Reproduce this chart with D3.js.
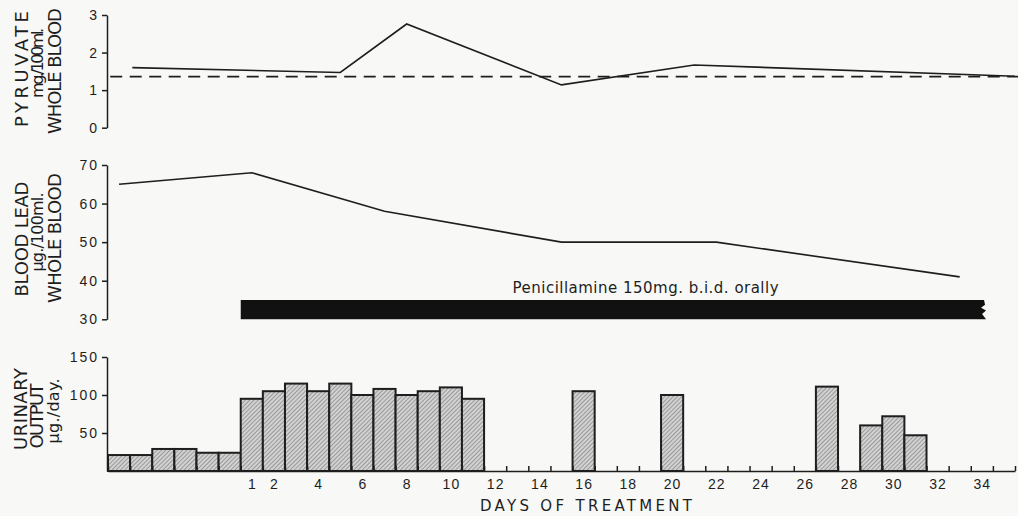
<!DOCTYPE html>
<html>
<head>
<meta charset="utf-8">
<script src="https://cdn.jsdelivr.net/npm/d3@7"></script>
<style>
  body { margin: 0; background: #f8f8f6; }
  svg { display: block; font-family: "DejaVu Sans", sans-serif; }
</style>
</head>
<body>
<div id="chart"></div>
<script>
// day numbers are days of treatment, <= 0 are control days before treatment
const pyruvateDays = [-4.4, 5, 8, 15, 21, 35.5];
const pyruvateValues = [1.6, 1.47, 2.76, 1.14, 1.67, 1.37];
const pyruvateNormal = 1.36;
const pyruvateTicks = [0, 1, 2, 3];

const leadDays = [-5, 1, 7, 15, 22, 33];
const leadValues = [65, 68, 58, 50, 50, 41];
const leadTicks = [30, 40, 50, 60, 70];

const urineDays = [-5, -4, -3, -2, -1, 0, 1, 2, 3, 4, 5, 6, 7, 8, 9, 10, 11, 16, 20, 27, 29, 30, 31];
const urineValues = [21, 21, 29, 29, 24, 24, 95, 105, 115, 105, 115, 100, 108, 100, 105, 110, 95, 105, 100, 111, 60, 72, 47];
const urineTicks = [50, 100, 150];

const dayLabels = [1, 2, 4, 6, 8, 10, 12, 14, 16, 18, 20, 22, 24, 26, 28, 30, 32, 34];
const treatmentSpan = [0.5, 34.1];
const treatmentLabel = "Penicillamine 150mg. b.i.d. orally";

const width = 1018, height = 516;
const ink = "#1e1e1e";

const svg = d3.select("#chart").append("svg")
  .attr("width", width)
  .attr("height", height);

// hatched fill for the urine bars
const pat = svg.append("defs").append("pattern")
  .attr("id", "hatch")
  .attr("patternUnits", "userSpaceOnUse")
  .attr("width", 3).attr("height", 3)
  .attr("patternTransform", "rotate(45)");
pat.append("rect").attr("width", 3).attr("height", 3).attr("fill", "#d2d2d2");
pat.append("line").attr("x1", 0).attr("y1", 0).attr("x2", 0).attr("y2", 3)
  .attr("stroke", "#7a7a7a").attr("stroke-width", 1.3);

const x = d3.scaleLinear().domain([-5.5, 35.5]).range([108, 1015]);
const yPyr = d3.scaleLinear().domain([0, 3]).range([127.7, 15]);
const yLead = d3.scaleLinear().domain([30, 70]).range([319.3, 165]);
const yUri = d3.scaleLinear().domain([0, 150]).range([471, 357]);

function styleAxis(g) {
  g.select(".domain").attr("stroke", ink).attr("stroke-width", 1.5);
  g.selectAll(".tick line").attr("stroke", ink).attr("stroke-width", 1.5);
  g.selectAll(".tick text")
    .attr("fill", ink)
    .style("font-size", "14px")
    .style("letter-spacing", "2px");
}

function leftAxis(scale, ticks) {
  const g = svg.append("g")
    .attr("transform", `translate(${x.range()[0] - 1},0)`)
    .call(d3.axisLeft(scale).tickValues(ticks).tickFormat(d3.format("d"))
      .tickSize(5).tickSizeOuter(0).tickPadding(3));
  styleAxis(g);
  return g;
}

function sideTitle(lines) {
  lines.forEach(l => {
    svg.append("text")
      .attr("transform", `translate(${l.x},${l.y}) rotate(-90)`)
      .attr("text-anchor", "middle")
      .attr("textLength", l.len)
      .attr("lengthAdjust", "spacing")
      .attr("fill", ink)
      .style("font-size", l.size + "px")
      .text(l.t);
  });
}

// ---- pyruvate panel
leftAxis(yPyr, pyruvateTicks);
sideTitle([
  { t: "PYRUVATE", x: 28, y: 69, len: 116, size: 18 },
  { t: "mg./100ml.", x: 43, y: 63, len: 70, size: 16 },
  { t: "WHOLE BLOOD", x: 61, y: 71, len: 126, size: 18 }
]);

svg.append("line")
  .attr("x1", x(-5.4)).attr("x2", width)
  .attr("y1", yPyr(pyruvateNormal)).attr("y2", yPyr(pyruvateNormal))
  .attr("stroke", ink).attr("stroke-width", 1.6)
  .attr("stroke-dasharray", "12,7.5");

const pyrLine = d3.line().x(d => x(d[0])).y(d => yPyr(d[1]));
svg.append("path")
  .datum(d3.zip(pyruvateDays, pyruvateValues))
  .attr("d", pyrLine)
  .attr("fill", "none").attr("stroke", ink).attr("stroke-width", 1.6);

// ---- blood lead panel
leftAxis(yLead, leadTicks);
sideTitle([
  { t: "BLOOD LEAD", x: 28, y: 239, len: 115, size: 18 },
  { t: "μg./100ml.", x: 43, y: 232, len: 79, size: 16 },
  { t: "WHOLE BLOOD", x: 61, y: 238, len: 130, size: 18 }
]);

const leadLine = d3.line().x(d => x(d[0])).y(d => yLead(d[1]));
svg.append("path")
  .datum(d3.zip(leadDays, leadValues))
  .attr("d", leadLine)
  .attr("fill", "none").attr("stroke", ink).attr("stroke-width", 1.6);

// treatment bar with torn right end
const tx0 = x(treatmentSpan[0]), tx1 = x(treatmentSpan[1]);
const tTop = yLead(35), tBot = yLead(30);
const th = tBot - tTop;
svg.append("path")
  .attr("d", d3.line()([
    [tx0, tTop], [tx1, tTop], [tx1 + 1, tTop + th * 0.25], [tx1 - 3, tTop + th * 0.4],
    [tx1 + 2, tTop + th * 0.55], [tx1 - 2, tTop + th * 0.72], [tx1 + 2, tBot], [tx0, tBot]
  ]) + "Z")
  .attr("fill", "#111");

svg.append("text")
  .attr("x", x(18.8)).attr("y", yLead(36.8))
  .attr("text-anchor", "middle")
  .attr("textLength", 266).attr("lengthAdjust", "spacing")
  .attr("fill", ink)
  .style("font-size", "15px")
  .text(treatmentLabel);

// ---- urinary output panel
leftAxis(yUri, urineTicks);
sideTitle([
  { t: "URINARY", x: 27, y: 409, len: 82, size: 18 },
  { t: "OUTPUT", x: 43, y: 416, len: 65, size: 18 },
  { t: "μg./day.", x: 59, y: 411, len: 65, size: 16 }
]);

const dayW = x(1) - x(0);
svg.append("g").selectAll("rect")
  .data(d3.zip(urineDays, urineValues))
  .join("rect")
  .attr("x", d => x(d[0] - 0.5))
  .attr("y", d => yUri(d[1]))
  .attr("width", dayW)
  .attr("height", d => yUri(0) - yUri(d[1]))
  .attr("fill", "url(#hatch)")
  .attr("stroke", ink).attr("stroke-width", 2);

// day boundary ticks pointing up, then labels
const boundaries = d3.range(-5.5, 35.6, 1);
const xTickAxis = svg.append("g")
  .attr("transform", `translate(0,${yUri(0)})`)
  .call(d3.axisBottom(x).tickValues(boundaries).tickSizeInner(-5).tickSizeOuter(0).tickFormat(""));
styleAxis(xTickAxis);

const xLabelAxis = svg.append("g")
  .attr("transform", `translate(0,${yUri(0)})`)
  .call(d3.axisBottom(x).tickValues(dayLabels).tickSize(0).tickPadding(8));
xLabelAxis.select(".domain").remove();
xLabelAxis.selectAll(".tick text")
  .attr("fill", ink)
  .style("font-size", "14px")
  .style("letter-spacing", "1px");

svg.append("text")
  .attr("x", 586).attr("y", 511)
  .attr("text-anchor", "middle")
  .attr("textLength", 212).attr("lengthAdjust", "spacing")
  .attr("fill", ink)
  .style("font-size", "15px")
  .text("DAYS OF TREATMENT");
</script>
</body>
</html>
